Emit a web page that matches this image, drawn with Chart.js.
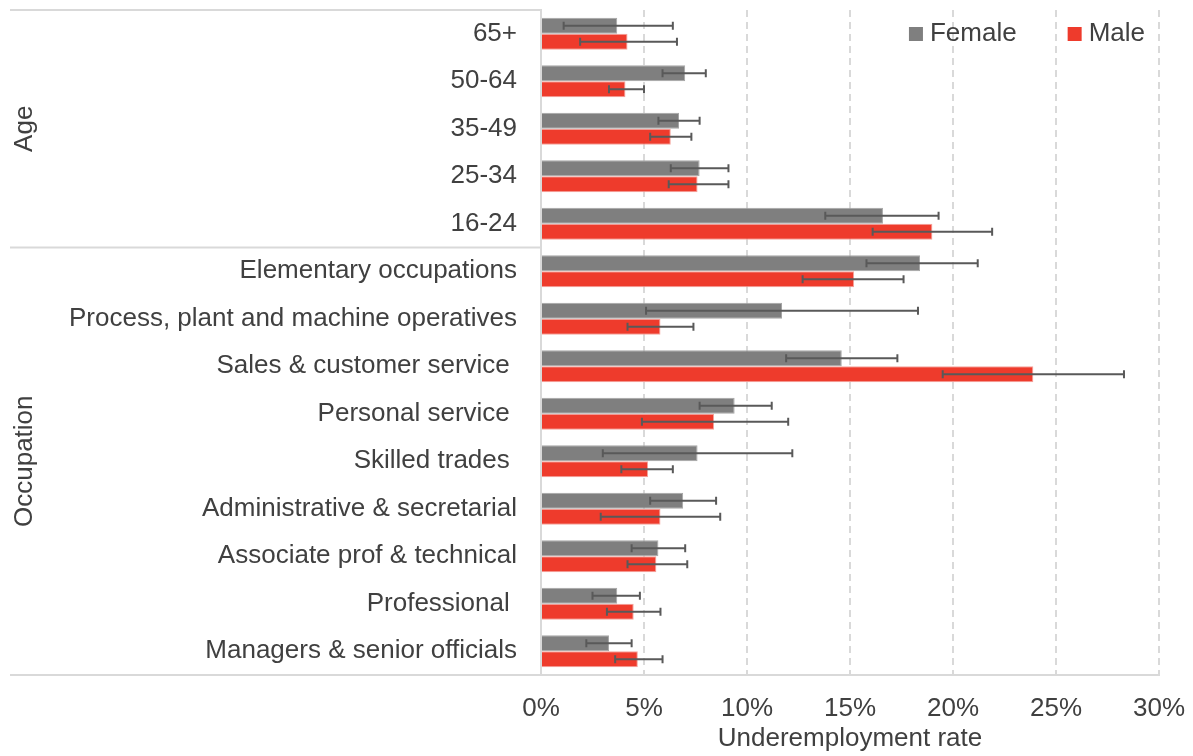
<!DOCTYPE html>
<html>
<head>
<meta charset="utf-8">
<script src="https://cdn.jsdelivr.net/npm/chart.js@4/dist/chart.umd.min.js"></script>
<style>
  html, body { margin: 0; padding: 0; background: #fff; }
  #wrap { width: 1193px; height: 756px; position: relative; }
</style>
</head>
<body>
<div id="wrap"><canvas id="grafico"></canvas></div>
<script>
// categorias (de cima para baixo)
const categorias = [
  '65+', '50-64', '35-49', '25-34', '16-24',
  'Elementary occupations', 'Process, plant and machine operatives',
  'Sales & customer service ', 'Personal service ', 'Skilled trades ',
  'Administrative & secretarial', 'Associate prof & technical',
  'Professional ', 'Managers & senior officials'
];
const grupos = ['Age', 'Occupation'];
const tamanhoGrupos = [5, 9];

const feminino      = [3.7, 7.0, 6.7, 7.7, 16.6, 18.4, 11.7, 14.6, 9.4, 7.6, 6.9, 5.7, 3.7, 3.3];
const femininoBaixo = [1.1, 5.9, 5.7, 6.3, 13.8, 15.8, 5.1, 11.9, 7.7, 3.0, 5.3, 4.4, 2.5, 2.2];
const femininoAlto  = [6.4, 8.0, 7.7, 9.1, 19.3, 21.2, 18.3, 17.3, 11.2, 12.2, 8.5, 7.0, 4.8, 4.4];

const masculino      = [4.2, 4.1, 6.3, 7.6, 19.0, 15.2, 5.8, 23.9, 8.4, 5.2, 5.8, 5.6, 4.5, 4.7];
const masculinoBaixo = [1.9, 3.3, 5.3, 6.2, 16.1, 12.7, 4.2, 19.5, 4.9, 3.9, 2.9, 4.2, 3.2, 3.6];
const masculinoAlto  = [6.6, 5.0, 7.3, 9.1, 21.9, 17.6, 7.4, 28.3, 12.0, 6.4, 8.7, 7.1, 5.8, 5.9];

const ticksX = [0, 5, 10, 15, 20, 25, 30];
const tituloX = 'Underemployment rate';

const corTexto = '#404040';
const corLinha = '#d9d9d9';
const fonte = 'Liberation Sans, Arial, sans-serif';
const tamFonte = 26;

// barras de erro
const barrasErro = {
  id: 'barrasErro',
  afterDatasetsDraw(chart) {
    const ctx = chart.ctx;
    const x = chart.scales.x;
    chart.data.datasets.forEach((ds, i) => {
      const meta = chart.getDatasetMeta(i);
      meta.data.forEach((bar, j) => {
        const x1 = x.getPixelForValue(ds.baixo[j]);
        const x2 = x.getPixelForValue(ds.alto[j]);
        const y = bar.y;
        ctx.save();
        ctx.strokeStyle = '#595959';
        ctx.lineWidth = 2;
        ctx.beginPath();
        ctx.moveTo(x1, y); ctx.lineTo(x2, y);
        ctx.moveTo(x1, y - 4); ctx.lineTo(x1, y + 4);
        ctx.moveTo(x2, y - 4); ctx.lineTo(x2, y + 4);
        ctx.stroke();
        ctx.restore();
      });
    });
  }
};

// eixo de categorias em dois niveis + legenda
const grupoEixo = {
  id: 'grupoEixo',
  afterDraw(chart) {
    const ctx = chart.ctx;
    const area = chart.chartArea;
    const y = chart.scales.y;
    const esq = 10;
    ctx.save();
    ctx.strokeStyle = corLinha;
    ctx.lineWidth = 2;
    let inicio = 0;
    const limites = [area.top];
    tamanhoGrupos.forEach((n) => {
      const fim = inicio + n - 1;
      const yb = fim < categorias.length - 1
        ? (y.getPixelForValue(fim) + y.getPixelForValue(fim + 1)) / 2
        : area.bottom;
      limites.push(yb);
      inicio += n;
    });
    limites.forEach(yy => {
      ctx.beginPath();
      ctx.moveTo(esq, yy);
      ctx.lineTo(area.left, yy);
      ctx.stroke();
    });
    ctx.fillStyle = corTexto;
    ctx.font = tamFonte + 'px ' + fonte;
    ctx.textAlign = 'center';
    ctx.textBaseline = 'middle';
    grupos.forEach((nome, g) => {
      const meio = (limites[g] + limites[g + 1]) / 2;
      ctx.save();
      ctx.translate(25, meio);
      ctx.rotate(-Math.PI / 2);
      ctx.fillText(nome, 0, 0);
      ctx.restore();
    });

    // legenda no canto superior direito
    ctx.textAlign = 'left';
    const yl = area.top + 24;
    let xr = area.right - 14;
    for (let i = chart.data.datasets.length - 1; i >= 0; i--) {
      const ds = chart.data.datasets[i];
      const w = ctx.measureText(ds.label).width;
      const xt = xr - w;
      ctx.fillStyle = corTexto;
      ctx.fillText(ds.label, xt, yl);
      ctx.fillStyle = ds.backgroundColor;
      ctx.fillRect(xt - 21, yl - 7, 14, 14);
      xr = xt - 21 - 51;
    }
    ctx.restore();
  }
};

window.addEventListener('load', () => {
  new Chart(document.getElementById('grafico'), {
    type: 'bar',
    data: {
      labels: categorias,
      datasets: [
        { label: 'Female', data: feminino, baixo: femininoBaixo, alto: femininoAlto,
          backgroundColor: '#7f7f7f', borderColor: '#a6a6a6', borderWidth: 1, borderSkipped: 'start' },
        { label: 'Male', data: masculino, baixo: masculinoBaixo, alto: masculinoAlto,
          backgroundColor: '#ee3b2c', borderColor: '#f4a39b', borderWidth: 1, borderSkipped: 'start' }
      ]
    },
    options: {
      indexAxis: 'y',
      responsive: true,
      maintainAspectRatio: false,
      animation: false,
      datasets: { bar: { categoryPercentage: 0.67, barPercentage: 1 } },
      layout: { padding: { left: 0, right: 34, top: 10, bottom: 0 } },
      plugins: { legend: { display: false }, tooltip: { enabled: false } },
      scales: {
        x: {
          min: 0, max: 30,
          afterBuildTicks(scale) { scale.ticks = ticksX.map(v => ({ value: v })); },
          afterFit(scale) { scale.height = 81; },
          grid: { color: corLinha, lineWidth: 2, drawTicks: true, tickLength: 18, tickColor: 'rgba(0,0,0,0)' },
          border: { color: corLinha, width: 2, dash: [7, 5] },
          ticks: {
            padding: 0,
            color: corTexto,
            font: { family: fonte, size: tamFonte },
            callback: v => v + '%'
          },
          title: {
            display: true, text: tituloX, color: corTexto,
            font: { family: fonte, size: tamFonte }, padding: { top: 0, bottom: 2 }
          }
        },
        y: {
          afterFit(scale) { scale.width = 541; },
          grid: { display: false, drawTicks: true, tickLength: 24 },
          border: { color: corLinha, width: 2 },
          ticks: {
            padding: 0,
            color: corTexto,
            font: { family: fonte, size: tamFonte, lineHeight: 0.7 },
            autoSkip: false
          }
        }
      }
    },
    plugins: [barrasErro, grupoEixo]
  });
});
</script>
</body>
</html>
